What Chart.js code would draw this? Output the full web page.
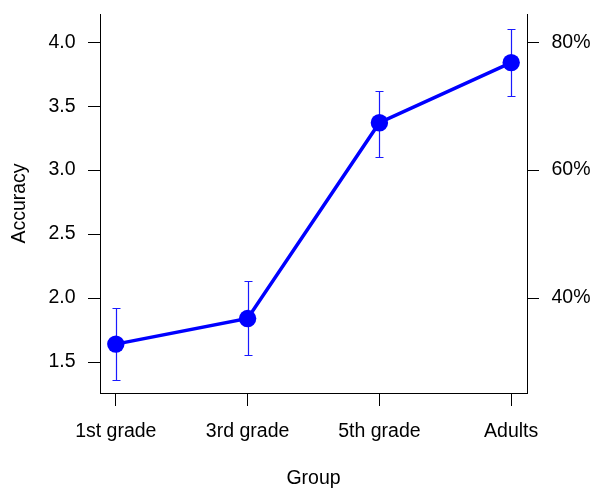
<!DOCTYPE html>
<html>
<head>
<meta charset="utf-8">
<script src="https://cdn.jsdelivr.net/npm/chart.js@4"></script>
<style>
  html, body { margin: 0; padding: 0; background: #fff; }
  #wrap { width: 593px; height: 488px; }
</style>
</head>
<body>
<div id="wrap"><canvas id="accChart" width="593" height="488"></canvas></div>
<script>
var groups = ['1st grade', '3rd grade', '5th grade', 'Adults'];
var accuracy = [1.64, 1.84, 3.37, 3.84];
var errLow = [1.36, 1.555, 3.10, 3.58];
var errHigh = [1.92, 2.13, 3.62, 4.105];
var accTicks = [1.5, 2.0, 2.5, 3.0, 3.5, 4.0];
var pctTicks = [40, 60, 80];

var fontFamily = '"Liberation Sans", Arial, Helvetica, sans-serif';
var tickFont = { family: fontFamily, size: 19.5, lineHeight: 1 };
var yMin = 1.258, yMax = 4.22;

Chart.defaults.color = '#000';

// error bars, drawn below the points
var errorBars = {
  id: 'errorBars',
  beforeDatasetsDraw: function (chart) {
    var ctx = chart.ctx;
    var xs = chart.scales.x, ys = chart.scales.y;
    ctx.save();
    ctx.strokeStyle = '#1a1aff';
    ctx.lineWidth = 1.2;
    for (var i = 0; i < groups.length; i++) {
      var x = Math.round(xs.getPixelForValue(i)) + 0.5;
      var top = Math.round(ys.getPixelForValue(errHigh[i])) + 0.5;
      var bot = Math.round(ys.getPixelForValue(errLow[i])) + 0.5;
      ctx.beginPath();
      ctx.moveTo(x, top); ctx.lineTo(x, bot);
      ctx.moveTo(x - 4, top); ctx.lineTo(x + 4, top);
      ctx.moveTo(x - 4, bot); ctx.lineTo(x + 4, bot);
      ctx.stroke();
    }
    ctx.restore();
  }
};

function axisGrid(len) {
  return { drawOnChartArea: false, drawTicks: true, tickLength: len, tickColor: '#000', tickWidth: 1 };
}
var axisBorder = { display: true, color: '#000', width: 1 };

// fixed axis sizes, no extra room for label overflow
function fixSize(w, h) {
  return function (s) {
    if (w) s.width = w;
    if (h) s.height = h;
    s.paddingTop = 0; s.paddingBottom = 0;
    s.paddingLeft = 0; s.paddingRight = 0;
  };
}

new Chart(document.getElementById('accChart'), {
  type: 'line',
  data: {
    datasets: [{
      data: accuracy.map(function (v, i) { return { x: i, y: v }; }),
      borderColor: '#0000ff',
      backgroundColor: '#0000ff',
      borderWidth: 3.5,
      pointRadius: 8.7,
      pointBorderWidth: 0,
      pointBackgroundColor: '#0000ff',
      yAxisID: 'y'
    }]
  },
  options: {
    responsive: false,
    animation: false,
    devicePixelRatio: 1,
    layout: { padding: { top: 14, left: 0, right: 0, bottom: 0 } },
    plugins: { legend: { display: false }, tooltip: { enabled: false } },
    scales: {
      x: {
        type: 'linear',
        position: 'bottom',
        min: -0.12,
        max: 3.12,
        afterBuildTicks: function (s) { s.ticks = groups.map(function (g, i) { return { value: i }; }); },
        afterFit: fixSize(0, 95),
        ticks: {
          font: tickFont,
          padding: 16,
          maxRotation: 0,
          autoSkip: false,
          callback: function (v) { return groups[v]; }
        },
        grid: axisGrid(13),
        border: axisBorder,
        title: { display: true, text: 'Group', font: tickFont, padding: { top: 0, bottom: 0 } }
      },
      y: {
        type: 'linear',
        position: 'left',
        min: yMin,
        max: yMax,
        afterBuildTicks: function (s) { s.ticks = accTicks.map(function (v) { return { value: v }; }); },
        afterFit: fixSize(100, 0),
        ticks: {
          font: tickFont,
          padding: 12.5,
          callback: function (v) { return v.toFixed(1); }
        },
        grid: axisGrid(12),
        border: axisBorder,
        title: { display: true, text: 'Accuracy', font: tickFont, padding: { top: 9.5, bottom: 0 } }
      },
      y2: {
        type: 'linear',
        position: 'right',
        min: yMin * 20,
        max: yMax * 20,
        afterBuildTicks: function (s) { s.ticks = pctTicks.map(function (v) { return { value: v }; }); },
        afterFit: fixSize(66, 0),
        ticks: {
          font: tickFont,
          padding: 12.5,
          callback: function (v) { return v + '%'; }
        },
        grid: axisGrid(12),
        border: axisBorder
      }
    }
  },
  plugins: [errorBars]
});
</script>
</body>
</html>
